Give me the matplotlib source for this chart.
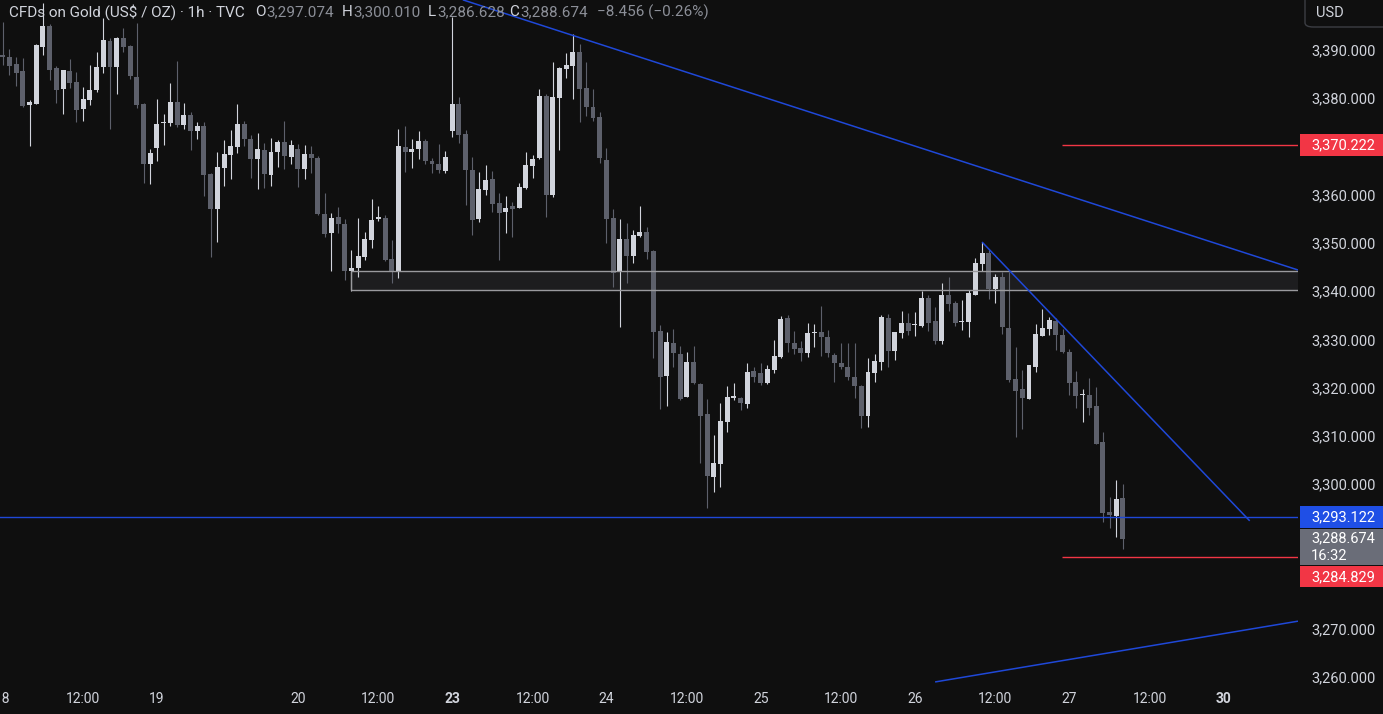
#!/usr/bin/env python3
"""
Grafica de velas 1h de CFDs on Gold (XAU/USD) al estilo TradingView oscuro,
con zona de resistencia, niveles y lineas de tendencia.
"""

import matplotlib
matplotlib.use("Agg")
import matplotlib.pyplot as plt
from matplotlib.patches import Rectangle, FancyBboxPatch
import numpy as np

W, H = 1383, 714
BG = "#0f0f0f"
UP = "#d1d4dc"
DOWN = "#5d606b"
TXT = "#d1d4dc"
GREY_VAL = "#8c8f98"
BLUE = "#1f48d8"
BLUE_BOX = "#1f4fe6"
RED = "#f23645"
FONT = ["Roboto", "DejaVu Sans"]

# --- datos OHLC (una vela por hora) ---
opens = [
    3389.0, 3388.5, 3387.1, 3385.6, 3378.6, 3378.8, 3390.6, 3395.0, 3386.3, 3381.9,
    3385.6, 3383.4, 3377.8, 3379.6, 3381.7, 3386.5, 3391.9, 3386.5, 3392.5, 3390.8,
    3384.4, 3378.8, 3366.4, 3369.7, 3374.8, 3374.9, 3379.2, 3374.5, 3376.5, 3373.2,
    3374.2, 3364.3, 3357.0, 3365.5, 3368.2, 3369.9, 3374.7, 3371.6, 3367.4, 3369.3,
    3364.1, 3368.9, 3370.9, 3367.8, 3369.5, 3365.3, 3368.4, 3367.6, 3356.0, 3352.1,
    3355.4, 3353.9, 3344.2, 3344.8, 3347.1, 3350.6, 3355.0, 3355.2, 3346.7, 3344.0,
    3369.9, 3368.9, 3369.5, 3371.1, 3367.0, 3366.4, 3364.9, 3373.2, 3378.8, 3372.6,
    3365.1, 3355.0, 3361.0, 3363.3, 3358.3, 3356.4, 3357.7, 3357.2, 3361.4, 3366.0,
    3367.6, 3380.5, 3359.9, 3380.0, 3386.1, 3386.7, 3389.6, 3382.1, 3378.2, 3376.1,
    3367.2, 3355.2, 3344.2, 3350.8, 3347.3, 3351.4, 3352.3, 3348.3, 3331.7, 3322.4,
    3329.3, 3327.0, 3318.1, 3325.3, 3320.8, 3314.5, 3301.5, 3304.2, 3312.9, 3317.9,
    3317.9, 3316.6, 3323.5, 3323.0, 3321.0, 3323.7, 3326.4, 3334.4, 3329.3, 3328.2,
    3327.2, 3331.3, 3331.5, 3330.5, 3326.8, 3325.1, 3324.3, 3322.2, 3320.3, 3314.1,
    3323.0, 3325.3, 3334.4, 3327.6, 3331.3, 3333.4, 3333.0, 3332.8, 3338.6, 3333.8,
    3329.7, 3339.2, 3337.6, 3333.6, 3333.6, 3339.2, 3345.6, 3347.9, 3340.5, 3342.9,
    3332.4, 3321.8, 3319.7, 3317.7, 3324.3, 3330.7, 3332.2, 3333.8, 3330.9, 3327.4,
    3321.2, 3318.4, 3318.5, 3316.2, 3308.7, 3294.2, 3293.4, 3297.074,
]
highs = [
    3395.8, 3390.2, 3388.5, 3388.3, 3379.6, 3391.2, 3399.7, 3395.4, 3386.7, 3385.9,
    3388.1, 3385.4, 3382.3, 3386.9, 3389.6, 3396.6, 3392.5, 3392.7, 3394.6, 3391.0,
    3395.6, 3379.0, 3369.5, 3379.8, 3376.7, 3383.2, 3387.7, 3379.0, 3377.1, 3375.1,
    3375.1, 3364.5, 3368.9, 3371.3, 3373.4, 3378.8, 3375.3, 3372.4, 3372.8, 3370.7,
    3371.8, 3371.3, 3375.3, 3371.3, 3370.5, 3370.3, 3370.1, 3368.0, 3360.4, 3356.2,
    3357.5, 3355.0, 3348.5, 3355.2, 3352.3, 3359.1, 3357.7, 3355.8, 3350.6, 3373.6,
    3374.2, 3371.6, 3373.2, 3371.6, 3367.6, 3370.5, 3369.1, 3396.8, 3380.3, 3373.4,
    3367.8, 3364.7, 3366.2, 3364.9, 3360.4, 3359.7, 3358.5, 3362.4, 3368.9, 3368.2,
    3381.9, 3380.9, 3387.5, 3386.5, 3389.4, 3393.3, 3391.2, 3387.5, 3381.9, 3377.1,
    3369.7, 3357.0, 3355.0, 3354.1, 3352.7, 3357.7, 3353.3, 3348.5, 3333.0, 3331.5,
    3332.2, 3328.6, 3327.4, 3328.6, 3321.0, 3317.7, 3310.2, 3316.8, 3320.3, 3321.0,
    3318.1, 3325.1, 3324.3, 3325.1, 3324.7, 3329.9, 3334.9, 3335.1, 3331.7, 3329.7,
    3333.4, 3333.2, 3336.9, 3332.0, 3327.2, 3329.3, 3329.3, 3329.3, 3320.6, 3326.2,
    3327.0, 3335.1, 3335.3, 3331.5, 3335.9, 3335.5, 3335.7, 3340.0, 3339.2, 3336.7,
    3341.7, 3342.9, 3338.0, 3338.2, 3340.2, 3346.9, 3350.2, 3348.5, 3343.6, 3344.0,
    3344.0, 3328.4, 3323.7, 3324.7, 3333.2, 3336.3, 3334.7, 3334.4, 3332.2, 3328.0,
    3323.5, 3319.7, 3322.0, 3320.1, 3310.8, 3297.3, 3300.9, 3300.010,
]
lows = [
    3386.9, 3384.8, 3382.5, 3378.2, 3370.1, 3378.8, 3389.0, 3383.8, 3379.0, 3376.7,
    3382.1, 3375.1, 3375.3, 3378.6, 3381.3, 3385.2, 3373.6, 3380.9, 3389.6, 3384.0,
    3378.0, 3362.4, 3362.2, 3367.0, 3370.3, 3374.2, 3374.0, 3373.6, 3369.3, 3371.6,
    3359.7, 3347.1, 3350.2, 3361.8, 3363.3, 3368.6, 3370.1, 3363.5, 3361.2, 3361.4,
    3361.8, 3365.7, 3365.3, 3366.4, 3361.6, 3363.3, 3364.5, 3355.8, 3351.2, 3344.2,
    3352.1, 3342.3, 3340.0, 3342.9, 3346.5, 3349.0, 3354.6, 3346.3, 3341.7, 3342.7,
    3364.7, 3365.5, 3367.4, 3366.4, 3364.5, 3364.5, 3364.5, 3372.0, 3370.7, 3357.9,
    3351.6, 3354.3, 3359.9, 3356.4, 3346.5, 3352.1, 3351.2, 3357.2, 3361.2, 3363.5,
    3367.4, 3355.4, 3359.5, 3369.3, 3384.2, 3379.8, 3375.1, 3376.3, 3375.3, 3366.6,
    3350.0, 3340.9, 3332.6, 3341.7, 3345.8, 3351.2, 3346.7, 3326.2, 3315.6, 3316.2,
    3324.3, 3317.4, 3318.1, 3320.8, 3304.4, 3295.1, 3298.4, 3299.4, 3310.8, 3317.4,
    3315.4, 3315.8, 3321.2, 3320.6, 3320.8, 3323.0, 3326.2, 3327.4, 3327.0, 3325.5,
    3326.4, 3328.4, 3326.6, 3326.4, 3321.2, 3323.9, 3321.6, 3317.9, 3311.6, 3311.8,
    3321.2, 3323.7, 3324.3, 3325.7, 3330.3, 3330.9, 3330.7, 3332.6, 3331.7, 3329.1,
    3329.1, 3335.9, 3332.8, 3332.0, 3330.5, 3339.2, 3344.2, 3338.4, 3337.6, 3331.1,
    3321.2, 3309.8, 3311.4, 3317.7, 3323.2, 3330.7, 3330.9, 3327.8, 3327.2, 3318.5,
    3315.8, 3312.9, 3314.3, 3308.3, 3292.2, 3290.9, 3289.0, 3286.628,
]
closes = [
    3388.5, 3386.7, 3385.2, 3378.4, 3379.2, 3391.0, 3395.0, 3385.9, 3381.7, 3385.9,
    3383.2, 3377.6, 3379.8, 3381.7, 3386.5, 3392.1, 3386.5, 3392.5, 3390.6, 3384.6,
    3378.6, 3366.4, 3368.6, 3374.7, 3374.9, 3379.2, 3374.5, 3376.5, 3373.2, 3374.2,
    3364.1, 3357.0, 3365.7, 3368.4, 3370.1, 3374.7, 3371.6, 3367.4, 3369.5, 3364.3,
    3368.9, 3370.9, 3368.0, 3370.3, 3365.3, 3368.4, 3367.6, 3356.0, 3351.9, 3355.2,
    3353.9, 3344.2, 3344.8, 3347.3, 3350.8, 3354.8, 3355.2, 3346.5, 3344.0, 3370.1,
    3368.9, 3369.5, 3371.1, 3367.0, 3366.4, 3365.1, 3367.8, 3378.8, 3372.4, 3365.1,
    3354.8, 3361.2, 3363.1, 3358.1, 3356.2, 3357.2, 3357.0, 3361.6, 3366.2, 3367.4,
    3380.5, 3359.9, 3380.3, 3386.3, 3386.9, 3389.6, 3381.9, 3378.2, 3375.9, 3367.6,
    3355.0, 3343.8, 3350.8, 3347.3, 3351.6, 3352.3, 3348.1, 3331.5, 3322.2, 3329.5,
    3327.2, 3317.7, 3325.3, 3321.0, 3314.1, 3301.7, 3304.4, 3313.1, 3318.1, 3318.0,
    3316.8, 3323.2, 3322.2, 3321.0, 3323.9, 3326.6, 3334.2, 3329.3, 3328.0, 3327.2,
    3331.3, 3331.4, 3330.5, 3327.2, 3325.1, 3324.3, 3322.2, 3320.3, 3314.1, 3323.2,
    3325.5, 3334.7, 3327.6, 3331.5, 3333.4, 3331.7, 3333.1, 3338.6, 3333.4, 3329.7,
    3339.2, 3337.3, 3333.4, 3333.7, 3339.6, 3345.8, 3347.9, 3340.5, 3342.9, 3332.6,
    3321.6, 3319.3, 3317.9, 3324.7, 3331.1, 3332.4, 3334.0, 3330.9, 3327.4, 3321.0,
    3318.3, 3318.5, 3315.8, 3308.3, 3294.0, 3293.6, 3296.9, 3288.674,
]

# --- eje de tiempo (indice de vela) ---
tick_bars = [0, 12, 23, 44, 56, 67, 79, 90, 102, 113, 125, 136, 148, 159, 171, 182]
tick_labels = ["18", "12:00", "19", "20", "12:00", "23", "12:00", "24",
               "12:00", "25", "12:00", "26", "12:00", "27", "12:00", "30"]
bold_labels = ["23", "30"]

# --- eje de precios ---
price_ticks = [3260, 3270, 3280, 3290, 3300, 3310, 3320, 3330,
               3340, 3350, 3360, 3370, 3380, 3390]

# --- dibujos ---
zone_low, zone_high = 3340.2, 3344.2
zone_start = 51.9
res_level = 3370.222
sup_level = 3284.829
red_start = 157.9
blue_level = 3293.122
trend_major = ([68.6, 193.1], [3400.4, 3344.4])
trend_minor = ([146.0, 185.9], [3350.2, 3292.4])
trend_up = ([139.0, 193.1], [3259.0, 3271.6])

# --- cabecera ---
title = "CFDs on Gold (US$ / OZ) \u00b7 1h \u00b7 TVC"
last_change = -8.456
last_change_pct = -0.26
countdown = "16:32"

# limites visibles
x_min, x_max = -0.40, 193.1
y_min, y_max = 3258.16, 3400.37


def fmt_price(v):
    return f"{v:,.3f}"


def img_to_fig(x, y):
    return x / W, 1 - y / H


def draw_candles(ax):
    o = np.array(opens)
    h = np.array(highs)
    l = np.array(lows)
    c = np.array(closes)
    x = np.arange(len(o))
    colors = [UP if cc >= oo else DOWN for oo, cc in zip(o, c)]
    ax.vlines(x, l, h, colors=colors, linewidth=0.8, zorder=2)
    bottom = np.minimum(o, c)
    height = np.maximum(np.abs(c - o), 0.3)
    ax.bar(x, height, bottom=bottom, width=0.74, color=colors,
           linewidth=0, zorder=2)


def draw_drawings(ax):
    # zona de resistencia
    ax.add_patch(Rectangle((zone_start, zone_low), x_max - zone_start + 5,
                           zone_high - zone_low, facecolor="#1d1d1f",
                           edgecolor="none", zorder=1))
    ax.hlines([zone_low, zone_high], zone_start, x_max + 5, colors="#9a9a9e",
              linewidth=1.0, zorder=3)
    ax.vlines(zone_start, zone_low, zone_high, colors="#9a9a9e",
              linewidth=1.0, zorder=3)

    # niveles rojos
    ax.hlines([res_level, sup_level], red_start, x_max + 5, colors=RED,
              linewidth=1.0, zorder=3)
    # nivel azul
    ax.axhline(blue_level, color=BLUE, linewidth=1.0, zorder=3)

    # lineas de tendencia
    for xs, ys in (trend_major, trend_minor, trend_up):
        ax.plot(xs, ys, color=BLUE, linewidth=1.1, zorder=3,
                solid_capstyle="butt")


def price_box(fig, y_top, y_bot, color, lines):
    """Caja de etiqueta en la escala de precios (coords de imagen)."""
    x0, y0 = img_to_fig(1300, y_bot)
    fig.add_artist(Rectangle((x0, y0), (W - 1300) / W, (y_bot - y_top) / H,
                             transform=fig.transFigure, facecolor=color,
                             edgecolor="none", zorder=5))
    n = len(lines)
    step = (y_bot - y_top) / n
    for i, txt in enumerate(lines):
        yc = y_top + step * (i + 0.5)
        fx, fy = img_to_fig(1311, yc)
        fig.text(fx, fy, txt, color="white", fontsize=10.5, family=FONT,
                 ha="left", va="center", zorder=6)


def header(fig):
    """Titulo y valores OHLC; cada letra va pegada a su valor."""
    renderer = fig.canvas.get_renderer()
    hy = 12
    groups = [
        (9, [(title, TXT)]),
        (255, [("O", TXT), (fmt_price(opens[-1]), GREY_VAL)]),
        (342, [("H", TXT), (fmt_price(highs[-1]), GREY_VAL)]),
        (428, [("L", TXT), (fmt_price(lows[-1]), GREY_VAL)]),
        (509, [("C", TXT), (fmt_price(closes[-1]), GREY_VAL)]),
        (597, [(f"\u2212{abs(last_change):.3f} "
                f"(\u2212{abs(last_change_pct):.2f}%)", GREY_VAL)]),
    ]
    for x, pieces in groups:
        for txt, col in pieces:
            fx, fy = img_to_fig(x, hy)
            t = fig.text(fx, fy, txt, color=col, fontsize=11, family=FONT,
                         ha="left", va="center", zorder=6)
            x += t.get_window_extent(renderer).width + 1


def main():
    fig = plt.figure(figsize=(W / 100, H / 100), dpi=100, facecolor=BG)
    ax = fig.add_axes([0, 28 / H, 1298 / W, 686 / H], facecolor=BG)

    draw_candles(ax)
    draw_drawings(ax)

    ax.set_xlim(x_min, x_max)
    ax.set_ylim(y_min, y_max)

    ax.yaxis.tick_right()
    ax.set_yticks(price_ticks)
    ax.set_yticklabels([fmt_price(v) for v in price_ticks], family=FONT)
    ax.tick_params(axis="y", length=0, pad=9.4, labelcolor=TXT, labelsize=10.5)

    ax.set_xticks(tick_bars)
    ax.set_xticklabels(tick_labels, family=FONT)
    ax.tick_params(axis="x", length=0, pad=4, labelcolor=TXT, labelsize=10)
    for lbl in ax.get_xticklabels():
        if lbl.get_text() in bold_labels:
            lbl.set_fontweight("bold")

    for sp in ax.spines.values():
        sp.set_visible(False)

    # posiciones en pixeles de imagen para las cajas de precio
    def y_img(price):
        return H - ax.transData.transform((0, price))[1]

    boxes = []
    yr = y_img(res_level)
    boxes.append((yr - 11, yr + 11, RED, [fmt_price(res_level)]))
    yb = y_img(blue_level)
    boxes.append((yb - 11, yb + 11, BLUE_BOX, [fmt_price(blue_level)]))
    boxes.append((yb + 12, yb + 48, "#6a6d78",
                  [fmt_price(closes[-1]), countdown]))
    boxes.append((yb + 49, yb + 70, RED, [fmt_price(sup_level)]))
    for top, bot, col, lines in boxes:
        price_box(fig, top, bot, col, lines)

    # las etiquetas del eje tapadas por las cajas no se ven en el original
    for v, lbl in zip(price_ticks, ax.get_yticklabels()):
        yv = y_img(v)
        if any(top - 6 < yv < bot + 6 for top, bot, _, _ in boxes):
            lbl.set_visible(False)

    # caja USD
    ux, uy = img_to_fig(1305, 27)
    fig.add_artist(FancyBboxPatch((ux, uy), 100 / W, 40 / H,
                                  boxstyle="round,pad=0,rounding_size=0.006",
                                  transform=fig.transFigure, facecolor=BG,
                                  edgecolor="#3c3e44", linewidth=1.0, zorder=5))
    fx, fy = img_to_fig(1316, 13)
    fig.text(fx, fy, "USD", color=TXT, fontsize=10.5, family=FONT,
             ha="left", va="center", zorder=6)

    header(fig)

    fig.savefig("out.png", dpi=100, facecolor=BG)


if __name__ == "__main__":
    main()
